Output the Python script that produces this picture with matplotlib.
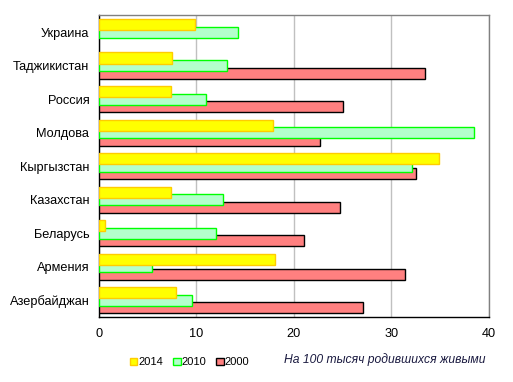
import numpy as np
import matplotlib
matplotlib.use("Agg")
import matplotlib.pyplot as plt
from matplotlib.patches import Patch

plt.rcParams['font.family'] = ['Liberation Sans', 'DejaVu Sans']

countries = ["Украина", "Таджикистан", "Россия", "Молдова", "Кыргызстан",
             "Казахстан", "Беларусь", "Армения", "Азербайджан"]
v2014 = [9.8, 7.5, 7.35, 17.9, 34.9, 7.35, 0.6, 18.1, 7.9]
v2010 = [14.3, 13.1, 11.0, 38.5, 32.1, 12.75, 12.0, 5.4, 9.5]
v2000 = [np.nan, 33.4, 25.0, 22.7, 32.5, 24.75, 21.05, 31.4, 27.1]
xticks = [0, 10, 20, 30, 40]

fig = plt.figure(figsize=(5.13, 3.82), dpi=100)
ax = fig.add_axes([0.193, 0.170, 0.760, 0.790])

y = np.arange(len(countries))
off = 0.226
h = 0.33

# red first, then green, yellow on top
ax.barh(y + off, v2000, height=h, color="#FF8080", edgecolor="black", linewidth=1, zorder=3)
ax.barh(y, v2010, height=h, color="#B3FFCC", edgecolor="#00FF00", linewidth=1, zorder=4)
ax.barh(y - off, v2014, height=h, color="#FFFF00", edgecolor="#FFCC00", linewidth=1, zorder=5)

ax.set_xlim(0, 40)
ax.set_ylim(len(countries) - 0.5, -0.5)
ax.set_xticks(xticks)
ax.set_yticks(y)
ax.set_yticklabels(countries, fontsize=9.2)
ax.tick_params(axis="both", length=0, labelsize=9.2)
ax.tick_params(axis="y", pad=7)
ax.tick_params(axis="x", pad=8)
ax.xaxis.grid(True, color="#C0C0C0", linewidth=1, zorder=0)
ax.set_axisbelow(True)

ax.spines["left"].set_color("black")
ax.spines["bottom"].set_color("black")
ax.spines["top"].set_color("#808080")
ax.spines["right"].set_color("#808080")
for s in ax.spines.values():
    s.set_linewidth(1)

handles = [Patch(facecolor="#FFFF00", edgecolor="#FFCC00", label="2014"),
           Patch(facecolor="#B3FFCC", edgecolor="#00FF00", label="2010"),
           Patch(facecolor="#FF8080", edgecolor="black", label="2000")]
fig.legend(handles=handles, loc="center left", bbox_to_anchor=(0.243, 0.052),
           ncol=3, frameon=False, fontsize=8, handlelength=0.65, handleheight=0.65,
           handletextpad=0.1, columnspacing=0.9, borderpad=0)

fig.text(0.947, 0.060, "На 100 тысяч родившихся живыми", ha="right", va="center",
         fontsize=8.7, style="italic", color="#1a1a40")

fig.savefig("out.png", dpi=100)
